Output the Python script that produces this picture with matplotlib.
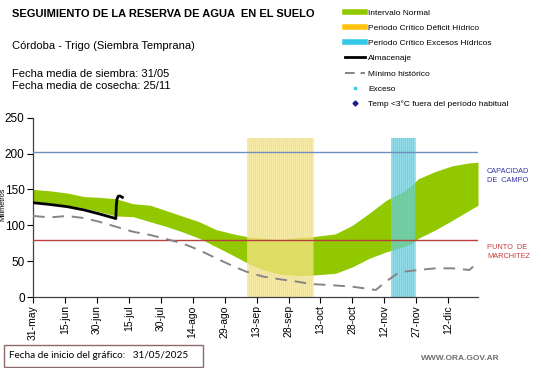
import numpy as np
import matplotlib
matplotlib.use("Agg")
import matplotlib.pyplot as plt
from matplotlib.lines import Line2D
from matplotlib.patches import Rectangle

plt.rcParams['font.family'] = ['Liberation Sans', 'DejaVu Sans']

# days counted from 31-may
tick_days = [0, 15, 30, 45, 60, 75, 90, 105, 120, 135, 150, 165, 180, 195]
tick_labels = ['31-may', '15-jun', '30-jun', '15-jul', '30-jul', '14-ago', '29-ago',
               '13-sep', '28-sep', '13-oct', '28-oct', '12-nov', '27-nov', '12-dic']

# intervalo normal (green band)
band_days = [0, 8, 16, 24, 31, 39, 47, 55, 63, 70, 78, 86, 94, 101, 108, 116, 124, 131,
             142, 150, 158, 166, 174, 178, 181, 189, 197, 205, 209]
band_max = [150, 148, 145, 140, 139, 137, 130, 128, 120, 113, 105, 94, 88, 84, 82, 80, 83, 84,
            88, 100, 117, 135, 147, 156, 165, 175, 183, 187, 188]
band_min = [134, 131, 128, 124, 119, 113, 112, 105, 98, 91, 82, 70, 58, 47, 38, 32, 30, 30.5,
            33, 42, 54, 63, 70, 75, 82, 93.5, 107, 121, 128]

# minimo historico
min_days = [0, 8, 16, 24, 31, 39, 47, 55, 63, 70, 78, 86, 94, 100, 108, 116, 124, 131, 139,
            150, 161, 166, 172, 181, 189, 197, 205, 209]
min_vals = [113, 111, 113, 110, 105, 98, 91, 86.5, 80.5, 75, 65.5, 54, 43, 35.5, 28.5, 24.7,
            21.4, 18, 16.7, 14.4, 9.8, 22, 34.5, 37.7, 40, 40, 37.7, 49]

# almacenaje
alm_days = [0, 8, 16, 24, 31, 38.9, 39.1, 39.4, 40, 40.8, 42]
alm_vals = [131.5, 129, 126, 121.4, 116, 109.4, 125, 136, 140.5, 141, 139]

capacidad_campo = 202
punto_marchitez = 80

deficit_period = (100.5, 131.4)
exceso_period = (168.3, 179.2)
period_top = 222

green = '#92C800'

fig = plt.figure(figsize=(5.41, 3.68), dpi=100)
ax = fig.add_axes([33 / 541, 1 - 297 / 368, 445 / 541, 179.3 / 368])

ax.fill_between(band_days, band_min, band_max, color=green, linewidth=0, zorder=1)

# critical periods: light fill with fine vertical stripes
stripe_step = 0.94
for (p0, p1), light, dark in [(deficit_period, '#FBF3C2', '#F3DC6A'),
                              (exceso_period, '#B8EAF2', '#48C8DC')]:
    ax.bar(p0, period_top, width=p1 - p0, align='edge', color=light, alpha=0.45,
           linewidth=0, zorder=2)
    ax.vlines(np.arange(p0 + 0.3, p1, stripe_step), 0, period_top, colors=dark,
              linewidth=0.75, alpha=0.5, antialiased=False, zorder=2)

ax.axhline(capacidad_campo, color='#6F8FC0', linewidth=1.0, zorder=3)
ax.axhline(punto_marchitez, color='#B8403C', linewidth=1.0, zorder=3)

ax.plot(min_days, min_vals, color='#858585', linewidth=1.4, dashes=(6, 4), zorder=4)
ax.plot(alm_days, alm_vals, color='black', linewidth=2.0, zorder=5)

ax.set_xlim(0, 209)
ax.set_ylim(0, 250)
ax.set_xticks(tick_days)
ax.set_xticklabels(tick_labels, rotation=90, fontsize=7.5)
ax.set_yticks([0, 50, 100, 150, 200, 250])
ax.tick_params(axis='y', labelsize=8.5, length=4, width=0.8, pad=2)
ax.tick_params(axis='x', length=4, width=0.8, pad=2)
for s in ['top', 'right']:
    ax.spines[s].set_visible(False)
for s in ['left', 'bottom']:
    ax.spines[s].set_color('#404040')
    ax.spines[s].set_linewidth(0.9)
ax.set_ylabel('Milimetros', fontsize=5.3)
ax.yaxis.set_label_coords(-0.059, 0.52)

ax.text(1.02, (capacidad_campo - 33) / 250, 'CAPACIDAD\nDE  CAMPO', transform=ax.transAxes,
        color='#3636A0', fontsize=5.3, va='center', ha='left', linespacing=1.4)
ax.text(1.02, (punto_marchitez - 17) / 250, 'PUNTO  DE\nMARCHITEZ', transform=ax.transAxes,
        color='#C83C3C', fontsize=5.3, va='center', ha='left', linespacing=1.4)

# header texts
fig.text(12 / 541, 1 - 14 / 368, 'SEGUIMIENTO DE LA RESERVA DE AGUA  EN EL SUELO',
         fontsize=8, fontweight='bold', va='center')
fig.text(12 / 541, 1 - 46 / 368, 'Córdoba - Trigo (Siembra Temprana)', fontsize=8, va='center')
fig.text(12 / 541, 1 - 80 / 368, 'Fecha media de siembra: 31/05\nFecha media de cosecha: 25/11',
         fontsize=8, va='center', linespacing=1.2)

handles = [
    Line2D([], [], color=green, linewidth=4),
    Line2D([], [], color='#FFC20E', linewidth=4),
    Line2D([], [], color='#33C8E8', linewidth=4),
    Line2D([], [], color='black', linewidth=2),
    Line2D([], [], color='#858585', linewidth=1.4, dashes=(5, 3)),
    Line2D([], [], color='#33C8E8', marker='s', markersize=2, linestyle='none'),
    Line2D([], [], color='#1A1A8C', marker='D', markersize=2.5, linestyle='none'),
]
labels = ['Intervalo Normal', 'Periodo Crítico Déficit Hídrico', 'Periodo Crítico Excesos Hídricos',
          'Almacenaje', 'Mínimo histórico', 'Exceso', 'Temp <3°C fuera del período habitual']
fig.legend(handles, labels, loc='upper left', bbox_to_anchor=(345 / 541, 1 - 9 / 368),
           frameon=False, fontsize=6, handlelength=2.4, handletextpad=0.35,
           labelspacing=0.88, borderpad=0, borderaxespad=0)

fig.patches.append(Rectangle((4 / 541, 1 - 367 / 368), 199 / 541, 22 / 368,
                             transform=fig.transFigure, fill=False,
                             edgecolor='#8A6A6A', linewidth=1))
fig.text(9 / 541, 1 - 356 / 368, 'Fecha de inicio del gráfico:   31/05/2025', fontsize=7.2,
         va='center', family=['Lato', 'DejaVu Sans'])
fig.text(500 / 541, 1 - 359 / 368, 'WWW.ORA.GOV.AR', fontsize=6, fontweight='bold',
         color='#707070', ha='right', va='center')

fig.savefig('out.png', dpi=100)
